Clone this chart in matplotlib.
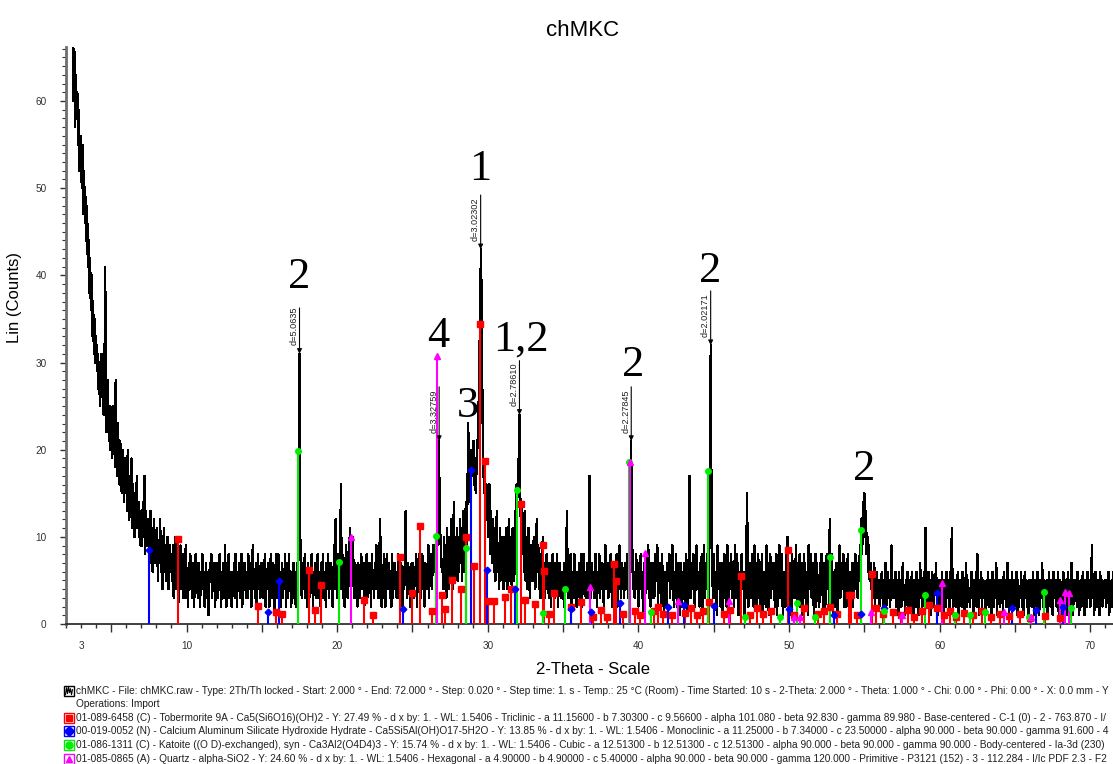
import numpy as np
import matplotlib
matplotlib.use("Agg")
import matplotlib.pyplot as plt
from matplotlib.ticker import MultipleLocator, FuncFormatter, NullLocator
from matplotlib.lines import Line2D
from matplotlib.patches import Rectangle
from matplotlib.transforms import Bbox

plt.rcParams['font.family'] = ['Liberation Sans', 'DejaVu Sans']

WAVELENGTH = 1.5406   # Cu K-alpha1, Angstrom
STEP = 0.05           # 2-theta step of the rows below

# Measured counts, one row per degree: "start: values at start, start+step, ..."
scan_rows = """
2: 98 95 93 90 86 84 80 76 71 68 60 66 57 63 58 61 55 59 52 56
3: 54 50 55 47 52 46 49 44 48 41 44 38 42 36 40 33 37 31 35 30
4: 33 29 31 27 30 25 28 31 26 29 24 27 41 26 22 28 24 21 25 20
5: 23 19 25 20 22 18 28 21 17 23 19 16 21 18 15 20 17 14 19 15
6: 18 13 20 15 12 17 14 19 11 16 13 10 15 12 17 11 14 10 13 9
7: 12 9 14 10 17 8 13 11 9 12 8 10 13 7 11 6 9 12 7 10
8: 8 11 5 9 7 12 6 10 4 8 11 6 9 5 8 10 4 7 9 6
9: 8 5 9 3 7 10 4 6 8 2 7 5 9 4 6 8 3 7 5 9
10: 3 6 2 7 5 8 4 6 3 7 2 5 8 4 6 3 7 5 2 6
11: 5 8 4 6 2 5 7 3 6 1 4 7 5 8 3 6 4 7 2 5
12: 7 3 6 4 8 5 2 6 4 7 3 9 5 2 6 4 8 3 6 4
13: 2 6 4 7 3 8 5 2 6 4 7 3 5 8 2 6 4 7 5 3
14: 6 3 8 4 5 7 2 6 9 4 6 3 7 2 5 8 4 6 3 7
15: 4 7 3 5 8 2 6 4 7 5 2 6 8 3 5 7 4 1 6 8
16: 3 6 8 4 6 2 5 7 3 6 4 8 2 5 7 3 8 4 6 2
17: 5 3 7 4 6 2 5 7 4 12 31 10 6 3 7 4 5 8 3 6
18: 2 7 5 3 6 4 8 5 2 6 4 7 3 5 8 3 6 4 2 7
19: 4 8 3 6 5 2 7 4 8 3 5 7 4 6 2 5 9 4 12 7
20: 3 8 5 4 7 16 4 8 3 6 2 7 9 4 3 6 8 11 4 7
21: 5 10 4 3 7 5 6 2 7 4 3 6 8 4 5 7 2 6 4 8
22: 3 6 4 7 5 2 8 4 6 3 7 4 9 5 6 3 7 12 5 2
23: 6 3 8 5 2 6 8 4 5 7 3 6 2 8 3 5 7 4 6 3
24: 5 8 3 6 3 7 5 2 6 4 8 13 5 3 7 6 4 2 6 7
25: 4 7 3 6 5 8 2 6 4 7 9 3 6 8 4 5 2 7 6 4
26: 6 9 3 7 5 8 4 9 6 9 6 8 10 9 12 21 14 10 8 6
27: 7 4 10 5 9 3 11 6 4 10 5 12 7 4 9 14 5 10 6 11
28: 5 10 6 12 7 11 5 13 8 6 12 14 9 15 23 14 19 16 20 18
29: 17 21 16 19 15 18 20 22 26 31 38 43 33 24 19 15 18 13 16 12
30: 14 10 16 8 13 9 7 12 6 11 5 10 13 6 9 4 11 5 10 7
31: 9 4 10 5 11 6 4 9 12 5 10 6 4 11 8 5 9 13 16 14
32: 17 19 24 15 11 14 8 12 6 13 5 10 4 9 11 5 3 9 5 8
33: 5 10 7 4 8 12 6 9 4 7 3 8 6 10 5 7 3 6 8 4
34: 6 3 7 5 2 6 8 4 6 3 7 5 8 2 4 7 5 3 6 4
35: 5 2 7 4 6 13 5 3 7 4 8 2 5 6 3 8 4 6 2 6
36: 4 7 3 6 8 2 5 8 4 6 3 5 7 3 6 17 5 3 7 4
37: 6 3 5 8 4 2 6 5 8 3 6 4 7 5 2 6 9 4 5 7
38: 3 6 4 8 5 2 7 4 6 3 5 8 2 6 4 9 5 3 7 6
39: 5 3 7 4 6 8 3 5 7 12 21 16 7 4 6 3 5 8 4 6
40: 2 7 5 8 4 6 1 5 7 3 8 4 6 9 3 5 2 7 6 3
41: 7 3 8 5 6 9 2 7 4 5 2 8 6 3 1 6 4 2 7 5
42: 5 8 3 7 4 9 5 2 6 3 8 2 6 7 3 1 7 5 2 6
43: 3 7 2 8 5 1 6 8 17 3 6 4 7 8 3 2 6 9 4 6
44: 6 2 7 3 8 1 5 9 3 7 4 8 5 2 8 20 32 12 6 3
45: 8 3 6 5 1 9 4 6 7 2 7 4 1 6 8 3 7 2 9 5
46: 2 7 4 8 5 3 7 2 9 3 6 8 4 1 6 5 2 8 4 6
47: 5 1 6 3 15 8 2 6 7 3 4 8 5 2 9 4 7 2 5 8
48: 3 7 2 6 8 1 6 4 5 2 9 3 7 1 5 8 3 7 4 6
49: 7 2 5 8 1 4 7 9 3 6 8 3 1 6 5 2 8 4 10 5
50: 2 7 4 1 8 5 3 7 3 9 5 2 7 4 8 2 6 7 1 4
51: 8 3 6 2 6 1 9 4 5 8 3 7 4 1 6 8 2 7 4 5
52: 2 7 4 8 5 2 7 3 2 6 8 4 7 2 12 5 3 8 1 6
53: 6 2 7 3 1 7 5 9 3 7 4 5 8 2 4 7 2 6 8 3
54: 6 3 5 4 7 2 6 5 8 4 6 3 7 5 9 7 12 8 14 10
55: 15 11 13 8 10 6 9 5 7 4 6 3 5 7 2 4 6 3 5 4
56: 2 5 3 6 4 1 5 3 7 2 4 6 3 5 2 4 9 3 5 4
57: 3 6 2 4 5 1 6 3 4 2 5 7 3 4 1 5 3 6 2 4
58: 5 2 4 6 3 1 5 4 2 6 3 5 1 4 7 3 5 2 4 6
59: 3 11 5 4 2 6 3 5 1 4 6 3 2 5 4 7 3 1 5 4
60: 5 2 4 6 3 1 5 4 2 6 3 5 4 1 6 3 11 4 2 5
61: 3 5 2 4 6 1 3 5 4 2 6 3 5 1 4 7 2 5 3 4
62: 2 4 6 3 5 1 4 3 6 2 8 4 1 5 3 6 2 4 5 3
63: 4 1 5 3 6 2 4 5 3 1 6 4 2 5 3 7 1 4 3 5
64: 2 5 3 4 1 6 3 5 2 4 7 3 1 5 4 2 6 3 5 2
65: 4 3 6 1 5 2 4 3 6 2 5 1 4 6 3 5 2 4 1 5
66: 3 5 2 4 6 1 3 5 4 2 6 3 1 5 4 3 7 2 4 5
67: 2 4 5 1 3 6 4 2 5 3 1 6 4 3 5 2 4 6 1 3
68: 5 3 1 4 6 2 5 3 4 1 6 3 5 2 4 7 3 1 5 4
69: 3 5 2 6 4 1 3 5 2 4 6 3 1 5 4 2 6 3 4 5
70: 2 4 9 3 5 1 4 6 3 2 5 4 1 6 3 5 2 4 3 5
71: 4 2 5 3 6 1 4 3 5 2 6 4 1 5 3 4 2 6 3 5
72: 4
"""

# Reference patterns (2-theta, stick height in counts)
tob_2theta = [9.45, 14.75, 15.97, 16.37, 18.1, 18.56, 18.94, 21.76, 22.4, 24.16, 25.0, 25.49,
              26.3, 26.97, 27.19, 27.59, 28.2, 28.58, 29.07, 29.45, 29.84, 30.02, 30.4, 31.13,
              31.55, 32.17, 32.46, 33.12, 33.65, 33.76, 34.05, 34.38, 35.5, 36.2, 37.0, 37.5,
              37.9, 38.4, 38.5, 39.0, 39.8, 40.1, 41.0, 41.3, 41.6, 42.2, 43.1, 43.5, 43.9,
              44.3, 44.7, 45.7, 46.1, 46.8, 47.4, 47.9, 48.3, 48.8, 49.9, 50.3, 51.0, 51.9,
              52.3, 52.7, 53.2, 53.95, 54.1, 54.5, 55.5, 55.8, 56.2, 56.9, 57.4, 57.9, 58.3,
              58.8, 59.3, 59.8, 60.3, 60.7, 61.1, 61.6, 62.2, 62.8, 63.4, 64.0, 64.6, 65.3,
              66.0, 67.0, 68.0]
tob_height = [9.7, 2.1, 1.4, 1.1, 6.2, 1.6, 4.5, 2.8, 1.0, 7.7, 3.5, 11.2,
              1.5, 3.3, 1.7, 5.0, 4.0, 10.0, 6.7, 34.4, 18.7, 2.6, 2.6, 3.1,
              4.0, 13.8, 2.7, 2.3, 9.1, 6.1, 1.2, 3.5, 1.9, 2.5, 0.8, 1.6,
              0.8, 6.9, 4.9, 1.2, 1.5, 1.0, 1.5, 2.0, 1.2, 1.0, 1.3, 1.8, 1.0,
              1.5, 2.5, 1.2, 1.6, 5.5, 1.0, 1.8, 1.2, 1.5, 8.5, 1.0, 1.8, 1.2,
              1.5, 2.0, 1.2, 3.3, 3.3, 1.0, 5.7, 1.8, 1.2, 1.4, 1.0, 1.6, 0.8,
              1.5, 2.2, 1.8, 1.0, 1.5, 0.8, 1.3, 1.0, 1.5, 0.8, 1.2, 0.9, 1.1,
              0.7, 0.9, 0.7]

cash_2theta = [7.5, 15.4, 16.17, 24.38, 28.9, 29.95, 31.83, 35.55, 36.86, 38.8, 41.94, 43.0,
               45.0, 49.97, 53.0, 54.8, 56.3, 59.8, 64.8, 66.4, 68.2]
cash_height = [8.5, 1.4, 4.9, 1.7, 17.7, 6.2, 4.0, 1.7, 1.4, 2.4, 2.0, 2.2,
               2.1, 1.7, 1.0, 1.2, 1.8, 3.5, 1.8, 1.6, 2.0]

kat_2theta = [17.41, 20.1, 26.57, 28.55, 31.95, 33.65, 35.15, 39.4, 40.85, 44.6, 47.1, 49.4,
              50.5, 51.7, 52.7, 54.8, 56.3, 59.0, 61.0, 62.0, 63.0, 65.9, 66.9, 68.7]
kat_height = [19.9, 7.1, 10.1, 8.7, 15.4, 1.3, 4.0, 18.6, 1.4, 17.6, 0.8, 0.8,
              2.4, 0.8, 7.7, 10.8, 1.5, 3.3, 1.0, 1.0, 1.4, 0.8, 3.7, 1.8]

qtz_2theta = [20.95, 26.64, 36.75, 39.47, 40.46, 42.62, 45.99, 50.3, 50.75, 55.45, 57.5, 60.15,
              64.24, 66.07, 67.96, 68.33, 68.6]
qtz_height = [10.0, 30.8, 4.3, 18.6, 8.2, 2.6, 2.6, 0.8, 0.8, 1.4, 1.0, 4.7,
              1.4, 0.8, 2.7, 3.7, 3.5]

# d-spacings (Angstrom) marked on the pattern, with the leader length in points
d_labels = ["5.0635", "3.32759", "3.02302", "2.78610", "2.27845", "2.02171"]
d_leader_pt = [33, 39, 39, 39, 39, 39]

# Phase numbers written above the peaks
tag_text = ["2", "4", "3", "1", "1,2", "2", "2", "2"]
tag_2theta = [17.5, 26.72, 28.65, 29.5, 32.2, 39.67, 44.77, 55.0]
tag_count = [38.5, 31.8, 23.7, 50.9, 31.4, 28.5, 39.2, 16.5]

legend_rows = [
    "chMKC - File: chMKC.raw - Type: 2Th/Th locked - Start: 2.000 \u00b0 - End: 72.000 \u00b0 - Step: 0.020 \u00b0 - Step time: 1. s - Temp.: 25 \u00b0C (Room) - Time Started: 10 s - 2-Theta: 2.000 \u00b0 - Theta: 1.000 \u00b0 - Chi: 0.00 \u00b0 - Phi: 0.00 \u00b0 - X: 0.0 mm - Y",
    "Operations: Import",
    "01-089-6458 (C) - Tobermorite 9A - Ca5(Si6O16)(OH)2 - Y: 27.49 % - d x by: 1. - WL: 1.5406 - Triclinic - a 11.15600 - b 7.30300 - c 9.56600 - alpha 101.080 - beta 92.830 - gamma 89.980 - Base-centered - C-1 (0) - 2 - 763.870 - I/",
    "00-019-0052 (N) - Calcium Aluminum Silicate Hydroxide Hydrate - Ca5Si5Al(OH)O17-5H2O - Y: 13.85 % - d x by: 1. - WL: 1.5406 - Monoclinic - a 11.25000 - b 7.34000 - c 23.50000 - alpha 90.000 - beta 90.000 - gamma 91.600 - 4",
    "01-086-1311 (C) - Katoite ((O D)-exchanged), syn - Ca3Al2(O4D4)3 - Y: 15.74 % - d x by: 1. - WL: 1.5406 - Cubic - a 12.51300 - b 12.51300 - c 12.51300 - alpha 90.000 - beta 90.000 - gamma 90.000 - Body-centered - Ia-3d (230)",
    "01-085-0865 (A) - Quartz - alpha-SiO2 - Y: 24.60 % - d x by: 1. - WL: 1.5406 - Hexagonal - a 4.90000 - b 4.90000 - c 5.40000 - alpha 90.000 - beta 90.000 - gamma 120.000 - Primitive - P3121 (152) - 3 - 112.284 - I/Ic PDF 2.3 - F2",
]


def parse_scan(block):
    tt, cc = [], []
    for line in block.strip().splitlines():
        start, vals = line.split(":")
        start = float(start)
        for i, v in enumerate(vals.split()):
            tt.append(round(start + i * STEP, 3))
            cc.append(int(v))
    return np.array(tt), np.array(cc, dtype=float)


def bragg_two_theta(d):
    return 2.0 * np.degrees(np.arcsin(WAVELENGTH / (2.0 * d)))


two_theta, counts = parse_scan(scan_rows)

W, H = 1113, 764
fig = plt.figure(figsize=(W / 100, H / 100), dpi=100)


def fx(px):
    return px / W


def fy(py):
    return 1 - py / H


ax = fig.add_axes([fx(66), fy(624), 1 - fx(66), (624 - 47) / H])
ax.set_xlim(2, 71.5)
ax.set_ylim(0, 66.2)

# measured pattern
ax.plot(two_theta, counts, color="black", lw=1.0, antialiased=False, zorder=2)

# reference sticks
phases = [
    (tob_2theta, tob_height, "#ff0000", "s", 4.2),
    (cash_2theta, cash_height, "#0000ff", "D", 3.4),
    (kat_2theta, kat_height, "#00ee00", "o", 4.0),
    (qtz_2theta, qtz_height, "#ff00ff", "^", 4.6),
]
for tt, hh, col, mk, ms in phases:
    ax.vlines(tt, 0, hh, colors=col, lw=1.5, zorder=3)
    ax.plot(tt, hh, ls="none", marker=mk, ms=ms, color=col, mec=col, zorder=4)

# d-spacing markers
for lab, lead in zip(d_labels, d_leader_pt):
    tt = bragg_two_theta(float(lab))
    near = np.abs(two_theta - tt) <= 0.06
    top = counts[near].max()
    ax.annotate("", xy=(tt, top), xytext=(0, lead), textcoords="offset points",
                arrowprops=dict(arrowstyle="-|>", color="black", lw=0.8,
                                mutation_scale=7, shrinkA=0, shrinkB=0), zorder=6)
    txt = ax.annotate("d=" + lab, xy=(tt, top), xytext=(-0.5, 6), textcoords="offset points",
                      rotation=90, ha="right", va="bottom", fontsize=6.6, zorder=6,
                      color="#202020")
    px0, py0 = ax.transData.transform((tt, top))
    txt.set_clip_box(Bbox.from_extents(px0 - 30, py0, px0 + 5, py0 + lead / 72 * fig.dpi))
    txt.set_clip_on(True)

for t, x, y in zip(tag_text, tag_2theta, tag_count):
    ax.text(x, y, t, ha="center", va="baseline", fontsize=32,
            family=["Liberation Serif", "DejaVu Serif"], zorder=7)

# axes styling
for s in ["top", "right"]:
    ax.spines[s].set_visible(False)
ax.spines["left"].set_color("#6e6e6e")
ax.spines["left"].set_linewidth(2.0)
ax.spines["bottom"].set_color("#303030")
ax.spines["bottom"].set_linewidth(1.3)

ax.xaxis.set_major_locator(MultipleLocator(5))
ax.xaxis.set_minor_locator(MultipleLocator(1))
ax.xaxis.set_major_formatter(FuncFormatter(lambda v, p: f"{v:.0f}" if abs(v % 10) < 1e-6 else ""))
ax.tick_params(axis="x", which="major", length=6, width=1, pad=6, labelsize=7.2,
               color="#303030", labelcolor="#303030")
ax.tick_params(axis="x", which="minor", length=3, width=1, color="#303030")

ax.yaxis.set_major_locator(MultipleLocator(10))
ax.yaxis.set_minor_locator(MultipleLocator(1))
ax.tick_params(axis="y", which="major", length=4, width=1, pad=10, labelsize=7.2,
               color="#303030", labelcolor="#303030")
ax.tick_params(axis="y", which="minor", length=3, width=0.8, color="#303030")

sec = ax.secondary_xaxis("bottom")
sec.set_xticks([3])
sec.set_xticklabels(["3"])
sec.xaxis.set_minor_locator(NullLocator())
sec.tick_params(length=0, pad=12, labelsize=7.2, labelcolor="#303030")
sec.spines["bottom"].set_visible(False)

fig.text(fx(583), fy(30), "chMKC", ha="center", va="center", fontsize=16)
fig.text(fx(15), fy(298), "Lin (Counts)", rotation=90, ha="center", va="center", fontsize=12)
fig.text(fx(593), fy(670), "2-Theta - Scale", ha="center", va="center", fontsize=12)

# legend block below the plot
row_y = [690.7, 704.3, 717.7, 731.0, 745.3, 759.3]
icons = [("scan", "black"), (None, None), ("s", "#ff0000"), ("D", "#0000ff"),
         ("o", "#00ee00"), ("^", "#ff00ff")]
for yy, text, (mk, col) in zip(row_y, legend_rows, icons):
    fig.text(fx(76), fy(yy), text, ha="left", va="center", fontsize=7.3, color="#202020")
    if mk is None:
        continue
    fig.add_artist(Rectangle((fx(64), fy(yy + 5)), 10 / W, 10 / H, transform=fig.transFigure,
                             facecolor="white", edgecolor=col, lw=1.0))
    if mk == "scan":
        zx = [65.5, 66.5, 67.5, 68.5, 69.5, 70.5, 71.5, 72.5]
        zy = [yy + 4, yy - 3, yy + 3, yy - 4, yy + 2, yy - 2, yy + 4, yy - 1]
        fig.add_artist(Line2D([fx(v) for v in zx], [fy(v) for v in zy],
                              transform=fig.transFigure, color="black", lw=0.8))
    else:
        fig.add_artist(Line2D([fx(69)], [fy(yy)], transform=fig.transFigure, ls="none",
                              marker=mk, ms=5, color=col))

fig.savefig("out.png", dpi=100)
